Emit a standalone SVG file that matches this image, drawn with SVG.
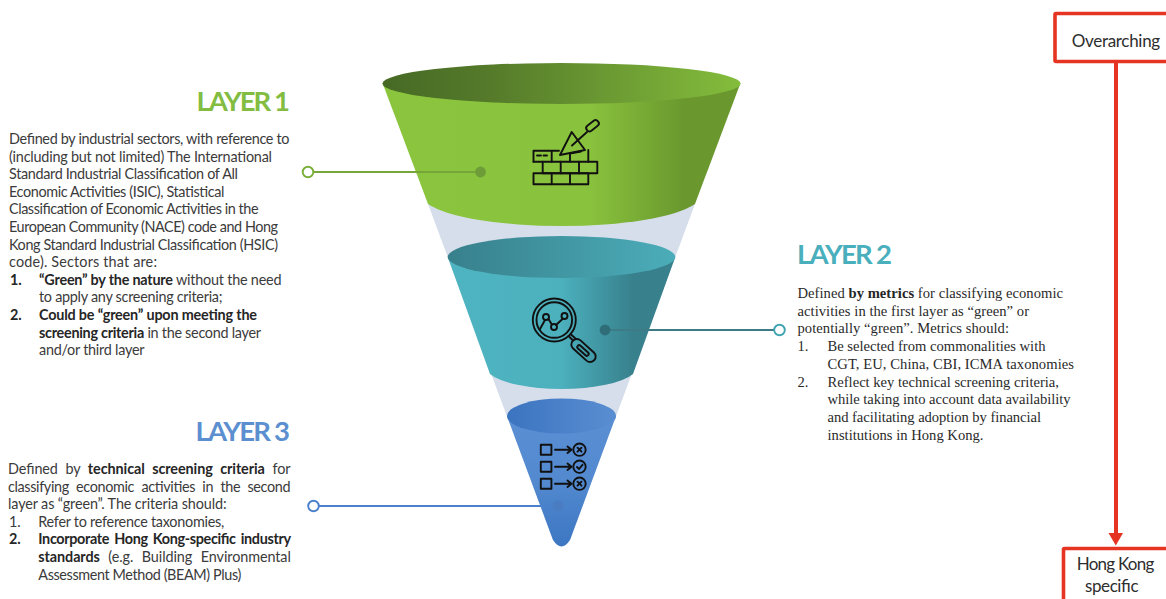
<svg xmlns="http://www.w3.org/2000/svg" width="1166" height="599" viewBox="0 0 1166 599">
<style>
.b{font-family:"Lato","Liberation Sans",sans-serif;font-size:14.4px;fill:#3b3b3b}
.s{font-family:"Liberation Serif",serif;font-size:14.6px;fill:#2a2a2a}
.h{font-family:"Lato","Liberation Sans",sans-serif;font-size:27.5px;font-weight:700}
.t{font-family:"Lato","Liberation Sans",sans-serif;font-size:17px;fill:#2e2e2e}
.bd{font-weight:700;fill:#262626}
.ic{fill:none;stroke:#111;stroke-width:1.9;stroke-linejoin:round;stroke-linecap:round}
.box{fill:#fff;stroke:#e63423;stroke-width:3.6}
.c{fill:none;stroke-width:2.1}
.o{fill:#fff;stroke-width:1.9}
</style>
<defs>
<linearGradient id="gb" gradientUnits="userSpaceOnUse" x1="382" y1="0" x2="741" y2="0"><stop offset="0" stop-color="#8bc53e"/><stop offset=".58" stop-color="#89c23d"/><stop offset=".84" stop-color="#6a982e"/><stop offset="1" stop-color="#6a982e"/></linearGradient>
<linearGradient id="gt" gradientUnits="userSpaceOnUse" x1="382" y1="0" x2="741" y2="0"><stop offset="0" stop-color="#466a25"/><stop offset=".3" stop-color="#557a2a"/><stop offset="1" stop-color="#84bd3c"/></linearGradient>
<linearGradient id="tb" gradientUnits="userSpaceOnUse" x1="447" y1="0" x2="675" y2="0"><stop offset="0" stop-color="#4fb4c1"/><stop offset=".5" stop-color="#4cb0bd"/><stop offset=".82" stop-color="#37808c"/><stop offset="1" stop-color="#37808c"/></linearGradient>
<linearGradient id="tt" gradientUnits="userSpaceOnUse" x1="447" y1="0" x2="675" y2="0"><stop offset="0" stop-color="#37808c"/><stop offset="1" stop-color="#4badb9"/></linearGradient>
<linearGradient id="bb" gradientUnits="userSpaceOnUse" x1="0" y1="416" x2="0" y2="548"><stop offset="0" stop-color="#5b8fd4"/><stop offset=".5" stop-color="#5289cf"/><stop offset="1" stop-color="#3c76c2"/></linearGradient>
<linearGradient id="bt" gradientUnits="userSpaceOnUse" x1="507" y1="0" x2="616" y2="0"><stop offset="0" stop-color="#3b74bf"/><stop offset="1" stop-color="#5a8ed2"/></linearGradient>
</defs>
<rect width="1166" height="599" fill="#fff"/>

<g id="funnel-cone"><path d="M428,204H695L570,540H553Z" fill="#d6deeb"/></g>

<g id="layer1-funnel">
<path d="M382.5,83L428,204A140.5,32 0 0 0 695,204L740.5,83Z" fill="url(#gb)"/>
<ellipse cx="561.5" cy="83.5" rx="179" ry="20.5" fill="url(#gt)"/>
<g class="ic">
<path d="M533.5,161.7V150.7H551.7V161.7M551.7,150.7H559M570,154.5V161.7M570,153.5L581,151.5M588.3,150V161.7M537,155.5H541M543.5,155.5H547"/>
<rect x="542.7" y="161.7" width="54.6" height="11.6"/>
<path d="M533.5,161.7H542.7M560.7,161.7V173.3M579,161.7V173.3"/>
<rect x="533.5" y="173.3" width="54.8" height="11"/>
<path d="M551.7,173.3V184.3M570,173.3V184.3"/>
<path d="M571.7,132L585,150L560,155Z"/>
<path d="M572,145.5L587,132"/>
<rect x="585.5" y="122.5" width="14" height="6.5" rx="3" transform="rotate(-38 592.5 125.7)"/>
</g>
</g>

<g id="layer2-funnel">
<path d="M447.7,257L490,374A75.4,22 0 0 0 633,374L675.3,257Z" fill="url(#tb)"/>
<ellipse cx="561.5" cy="257" rx="113.8" ry="21" fill="url(#tt)"/>
<g class="ic">
<circle cx="554.3" cy="320" r="21.5"/>
<circle cx="554.3" cy="320" r="17.8"/>
<path d="M540,329L545,320M548.5,319L551.5,324M556,325L562.5,319"/>
<circle cx="546" cy="317" r="3"/><circle cx="554" cy="327" r="3"/><circle cx="564.5" cy="316" r="3"/>
<path d="M568.5,336L573,340.5M571,334.5L576,339"/>
<rect x="569" y="345" width="29" height="11" rx="5.5" transform="rotate(42 583.5 350.5)"/>
<rect x="576" y="348.6" width="14" height="3.8" rx="1.9" transform="rotate(42 583 350.5)"/>
</g>
</g>

<g id="layer3-funnel">
<path d="M507,416L553,540Q561.5,553 570,540L616,416Z" fill="url(#bb)"/>
<ellipse cx="561.5" cy="416" rx="54.5" ry="17.5" fill="url(#bt)"/>
<g class="ic">
<rect x="540.8" y="444.7" width="10.6" height="10"/><rect x="540.8" y="461.7" width="10.6" height="10"/><rect x="540.8" y="478.7" width="10.6" height="10"/>
<path d="M555,449.7H571M567.5,446.5L571.5,449.7L567.5,453M555,466.7H571M567.5,463.5L571.5,466.7L567.5,470M555,483.7H571M567.5,480.5L571.5,483.7L567.5,487"/>
<circle cx="579.5" cy="449.7" r="6.2"/><circle cx="579.5" cy="466.7" r="6.2"/><circle cx="579.5" cy="483.7" r="6.2"/>
<path d="M577.5,447.7L581.5,451.7M581.5,447.7L577.5,451.7M577,467L579,469L582.5,464.8M577.5,481.7L581.5,485.7M581.5,481.7L577.5,485.7"/>
</g>
</g>

<g id="connectors">
<path class="c" d="M313.5,172H480" stroke="#76a63a"/>
<circle class="o" cx="308" cy="172" r="5.3" stroke="#7cae3a"/>
<circle cx="480.5" cy="172" r="5.4" fill="#6e9c38"/>
<path class="c" d="M605,330H774" stroke="#3d7c86"/>
<circle class="o" cx="779.5" cy="330" r="5.3" stroke="#3fa4b1"/>
<circle cx="605" cy="330" r="5.4" fill="#2f6d78"/>
<path class="c" d="M318.5,506H558" stroke="#4a80cc"/>
<circle class="o" cx="313.5" cy="506" r="5.3" stroke="#4a80cc"/>
<circle cx="558" cy="506" r="5.4" fill="#4a7cc2"/>
<path d="M1116,62V534" fill="none" stroke="#e63423" stroke-width="4"/>
<path d="M1108.5,533H1123L1115.8,545.5Z" fill="#e63423"/>
</g>

<g id="layer1-text">
<text class="h" x="196.5" y="110.5" textLength="93.5" fill="#82bd42">LAYER 1</text>
<text class="b" x="9" y="144" textLength="280.5">Defined by industrial sectors, with reference to</text>
<text class="b" x="9" y="161.6" textLength="263">(including but not limited) The International</text>
<text class="b" x="9" y="179.2" textLength="229">Standard Industrial Classification of All</text>
<text class="b" x="9" y="196.8" textLength="215.5">Economic Activities (ISIC), Statistical</text>
<text class="b" x="9" y="214.4" textLength="249.5">Classification of Economic Activities in the</text>
<text class="b" x="9" y="232" textLength="269">European Community (NACE) code and Hong</text>
<text class="b" x="9" y="249.6" textLength="269">Kong Standard Industrial Classification (HSIC)</text>
<text class="b" x="9" y="267.2" textLength="148">code). Sectors that are:</text>
<text class="b bd" x="10" y="284.8">1.</text>
<text class="b" x="39" y="284.8" textLength="242.5"><tspan class="bd">“Green” by the nature</tspan> without the need</text>
<text class="b" x="39" y="302.4" textLength="183.5">to apply any screening criteria;</text>
<text class="b bd" x="10" y="320">2.</text>
<text class="b bd" x="39" y="320" textLength="218">Could be “green” upon meeting the</text>
<text class="b" x="39" y="337.6" textLength="222"><tspan class="bd">screening criteria</tspan> in the second layer</text>
<text class="b" x="39" y="355.2" textLength="105.5">and/or third layer</text>
</g>

<g id="layer2-text">
<text class="h" x="797" y="264" textLength="95" fill="#4aafbc">LAYER 2</text>
<text class="s" x="797.5" y="298" textLength="265.5">Defined <tspan class="bd">by metrics</tspan> for classifying economic</text>
<text class="s" x="797.5" y="315.7" textLength="231.5">activities in the first layer as “green” or</text>
<text class="s" x="797.5" y="333.4" textLength="211.5">potentially “green”. Metrics should:</text>
<text class="s" x="797.5" y="351.1">1.</text>
<text class="s" x="827.5" y="351.1" textLength="218">Be selected from commonalities with</text>
<text class="s" x="827.5" y="368.8" textLength="246.5">CGT, EU, China, CBI, ICMA taxonomies</text>
<text class="s" x="797.5" y="386.5">2.</text>
<text class="s" x="827.5" y="386.5" textLength="231.5">Reflect key technical screening criteria,</text>
<text class="s" x="827.5" y="404.2" textLength="243">while taking into account data availability</text>
<text class="s" x="827.5" y="421.9" textLength="213.5">and facilitating adoption by financial</text>
<text class="s" x="827.5" y="439.6" textLength="156">institutions in Hong Kong.</text>
</g>

<g id="layer3-text">
<text class="h" x="195.5" y="440.5" textLength="94.5" fill="#5b8fd0">LAYER 3</text>
<text class="b" x="8" y="474" word-spacing="4" textLength="282.5">Defined by <tspan class="bd">technical screening criteria</tspan> for</text>
<text class="b" x="8" y="491.6" word-spacing="4" textLength="282.5">classifying economic activities in the second</text>
<text class="b" x="8" y="509.2" textLength="218.5">layer as “green”. The criteria should:</text>
<text class="b" x="9" y="526.8">1.</text>
<text class="b" x="38.3" y="526.8" textLength="186">Refer to reference taxonomies,</text>
<text class="b bd" x="9" y="544.4">2.</text>
<text class="b bd" x="38.3" y="544.4" word-spacing="2" textLength="252.7">Incorporate Hong Kong-specific industry</text>
<text class="b" x="38.3" y="562" word-spacing="5" textLength="252.5"><tspan class="bd">standards</tspan> (e.g. Building Environmental</text>
<text class="b" x="38.3" y="579.6" textLength="203">Assessment Method (BEAM) Plus)</text>
</g>

<g id="overarching-box">
<rect class="box" x="1055" y="13.5" width="125" height="48" rx="1"/>
<text class="t" x="1071.7" y="46.5" textLength="88.5">Overarching</text>
</g>
<g id="hong-kong-box">
<rect class="box" x="1063.5" y="548.5" width="120" height="70" rx="1"/>
<text class="t" x="1076.7" y="570" textLength="77.6">Hong Kong</text>
<text class="t" x="1085" y="591.7" textLength="53.5">specific</text>
</g>
</svg>
